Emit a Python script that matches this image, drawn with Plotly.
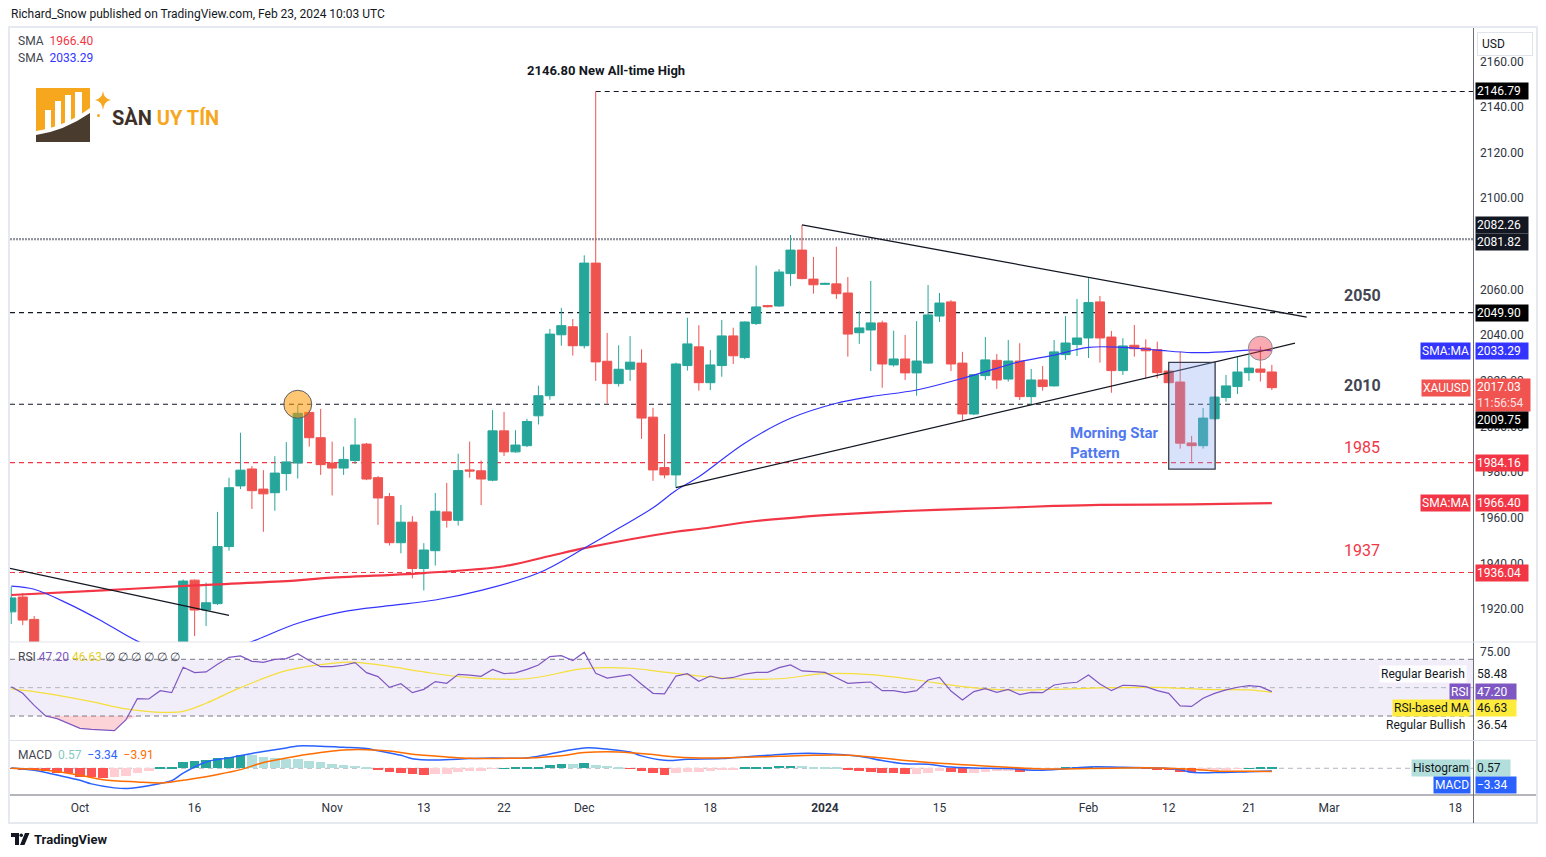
import numpy as np
import pandas as pd
import plotly.graph_objects as go

# ---------------- data ----------------
dates = pd.bdate_range("2023-09-22", "2024-02-23").strftime("%Y-%m-%d").tolist()

opens = [1918.8, 1925.3, 1915.5, 1900.6, 1874.6, 1864.6, 1848.6, 1827.9, 1822.3, 1821.6,
         1820.3, 1833.0, 1861.4, 1861.0, 1874.3, 1868.6, 1932.7, 1919.6, 1922.4, 1947.4,
         1974.0, 1981.4, 1972.6, 1971.0, 1979.4, 1984.0, 2006.2, 1995.1, 1984.0, 1981.8,
         1985.1, 1992.3, 1977.6, 1969.3, 1949.1, 1958.1, 1937.8, 1945.6, 1962.6, 1958.9,
         1981.0, 1980.6, 1976.5, 1998.1, 1988.9, 1991.6, 2004.7, 2013.5, 2040.2, 2043.7,
         2035.4, 2071.6, 2028.6, 2018.8, 2025.1, 2027.8, 2004.1, 1982.0, 1978.8, 2026.7,
         2034.9, 2019.2, 2026.7, 2039.7, 2030.2, 2045.1, 2053.0, 2052.8, 2067.0, 2077.3,
         2064.6, 2062.3, 2062.5, 2058.5, 2041.1, 2042.3, 2045.4, 2027.0, 2029.6, 2023.5,
         2027.8, 2048.4, 2054.6, 2027.8, 2005.5, 2022.3, 2029.0, 2020.8, 2028.7, 2013.1,
         2020.4, 2017.8, 2031.5, 2035.9, 2038.8, 2054.6, 2039.2, 2024.5, 2035.6, 2034.4,
         2033.7, 2024.3, 2019.5, 1992.8, 1991.6, 2003.4, 2012.7, 2017.5, 2023.6, 2025.2,
         2023.9]
highs = [1929.7, 1927.0, 1917.0, 1903.0, 1879.6, 1879.6, 1850.9, 1833.1, 1829.6, 1826.8,
         1834.0, 1865.0, 1866.8, 1876.0, 1885.0, 1933.0, 1933.0, 1931.6, 1962.6, 1977.6,
         1997.3, 1982.7, 1980.9, 1987.0, 1993.2, 2009.4, 2007.4, 2007.7, 1993.4, 1991.2,
         2003.7, 1992.8, 1978.3, 1970.9, 1965.6, 1960.7, 1948.9, 1970.9, 1975.3, 1988.1,
         1993.4, 1985.1, 2007.2, 2006.4, 1998.4, 2003.4, 2017.9, 2042.8, 2052.0, 2047.1,
         2075.0, 2146.79, 2041.0, 2035.6, 2039.6, 2033.8, 2008.2, 1996.7, 2028.0, 2047.7,
         2044.4, 2033.5, 2046.7, 2043.3, 2046.0, 2070.5, 2053.3, 2069.0, 2083.9, 2088.3,
         2074.3, 2063.0, 2078.8, 2065.5, 2050.6, 2063.8, 2046.4, 2042.0, 2040.1, 2046.2,
         2062.0, 2058.5, 2055.4, 2032.7, 2022.9, 2039.2, 2031.8, 2037.9, 2036.5, 2025.2,
         2026.5, 2037.9, 2048.4, 2055.9, 2065.0, 2057.2, 2041.9, 2038.7, 2044.5, 2038.2,
         2037.2, 2025.0, 2032.8, 1995.9, 2008.1, 2013.3, 2022.6, 2030.6, 2031.3, 2035.0,
         2027.0]
lows = [1913.5, 1913.0, 1899.5, 1873.8, 1857.4, 1846.0, 1827.3, 1815.0, 1816.2, 1813.2,
        1810.5, 1832.0, 1853.0, 1857.0, 1866.0, 1867.0, 1908.2, 1912.6, 1921.8, 1945.6,
        1972.6, 1963.9, 1953.9, 1963.1, 1971.9, 1977.2, 1991.2, 1978.8, 1969.8, 1978.8,
        1983.6, 1976.5, 1956.9, 1947.9, 1944.5, 1933.5, 1928.2, 1939.1, 1955.7, 1956.6,
        1977.6, 1965.6, 1976.0, 1987.1, 1988.5, 1991.0, 2000.9, 2011.7, 2035.4, 2031.1,
        2034.2, 2020.0, 2010.0, 2017.5, 2020.0, 1994.6, 1976.2, 1977.3, 1973.2, 2024.5,
        2015.7, 2016.0, 2021.8, 2027.4, 2029.5, 2044.5, 2052.2, 2052.5, 2061.6, 2064.5,
        2058.2, 2062.0, 2055.9, 2030.6, 2036.2, 2024.3, 2017.0, 2026.2, 2020.4, 2013.5,
        2027.5, 2045.8, 2024.3, 2002.6, 2005.0, 2020.4, 2016.5, 2019.7, 2011.6, 2009.4,
        2015.7, 2017.5, 2029.2, 2030.9, 2030.0, 2028.0, 2014.8, 2022.6, 2030.6, 2021.1,
        2021.1, 2018.8, 1990.3, 1984.6, 1990.3, 2003.0, 2010.9, 2014.3, 2020.0, 2019.7,
        2016.0]
closes = [1924.9, 1915.2, 1900.6, 1874.6, 1864.6, 1848.6, 1827.9, 1822.3, 1821.6, 1820.3,
          1832.9, 1861.4, 1860.9, 1874.3, 1868.6, 1932.3, 1919.6, 1922.8, 1947.4, 1973.2,
          1980.9, 1971.9, 1970.5, 1979.6, 1984.5, 2005.8, 1995.1, 1983.3, 1981.8, 1985.6,
          1991.9, 1977.0, 1968.7, 1949.1, 1958.1, 1937.8, 1945.9, 1962.9, 1958.9, 1980.7,
          1980.5, 1977.0, 1998.1, 1988.9, 1991.9, 2002.2, 2013.5, 2040.5, 2044.2, 2035.4,
          2071.6, 2028.3, 2018.8, 2025.1, 2028.2, 2003.7, 1981.0, 1978.8, 2027.4, 2036.2,
          2019.2, 2027.0, 2039.7, 2031.0, 2045.8, 2052.4, 2052.5, 2067.7, 2077.3, 2064.8,
          2062.1, 2062.7, 2058.2, 2040.5, 2043.2, 2045.4, 2027.4, 2029.6, 2023.5, 2028.7,
          2048.9, 2054.1, 2027.4, 2005.5, 2022.7, 2029.2, 2020.4, 2028.7, 2013.1, 2020.4,
          2017.5, 2032.7, 2036.6, 2038.8, 2054.3, 2038.8, 2024.5, 2035.3, 2034.1, 2033.2,
          2023.6, 2019.2, 1992.7, 1991.6, 2003.7, 2012.9, 2017.8, 2023.9, 2025.6, 2023.8,
          2017.03]

rsi = [50.7, 46.0, 37.5, 30.0, 28.2, 24.5, 21.3, 20.6, 20.2, 19.7,
       27.2, 42.2, 42.0, 47.9, 46.5, 64.4, 60.6, 61.1, 66.5, 71.4,
       72.4, 68.6, 67.9, 70.0, 70.5, 74.0, 69.1, 64.8, 64.8, 65.8,
       67.7, 60.6, 57.8, 50.2, 52.8, 46.5, 48.8, 54.3, 53.1, 59.4,
       58.9, 58.0, 62.9, 59.9, 60.4, 62.9, 66.0, 71.9, 72.6, 69.1,
       75.0, 60.1, 56.8, 58.2, 59.2, 52.4, 46.0, 45.6, 58.2, 59.9,
       54.5, 58.2, 56.3, 57.2, 59.6, 60.8, 60.8, 64.1, 66.0, 61.8,
       61.1, 60.8, 57.0, 53.1, 53.5, 54.0, 47.9, 47.9, 46.5, 47.9,
       55.4, 57.3, 47.6, 41.3, 47.2, 49.3, 46.7, 48.8, 45.1, 46.7,
       46.5, 51.9, 53.1, 53.8, 58.9, 52.6, 47.9, 51.7, 51.4, 50.7,
       47.9, 46.0, 37.1, 36.8, 42.5, 46.0, 48.4, 50.3, 51.4, 50.7,
       47.2]

hist = [-0.8, -1.7, -2.5, -3.75, -5.4, -6.25, -10.4, -11.3, -11.7, -10.8,
        -9.2, -5.4, -2.9, 0.4, 2.1, 7.5, 9.6, 10.4, 12.9, 14.6,
        16.25, 16.0, 14.2, 12.9, 12.1, 11.7, 9.6, 8.3, 5.8, 4.6,
        2.9, 1.7, -1.7, -4.2, -5.4, -7.1, -7.9, -6.7, -6.6, -4.2,
        -3.3, -3.2, -0.4, 0.3, 0.4, 1.7, 1.8, 4.2, 5.4, 5.2,
        6.7, 4.2, 2.9, 0.4, -0.4, -3.3, -5.4, -7.9, -5.8, -4.2,
        -4.1, -2.9, -2.1, -1.7, 0.4, 1.7, 1.8, 2.9, 3.0, 2.8,
        1.7, 1.6, 0.4, -2.1, -3.3, -4.6, -5.4, -5.5, -6.7, -6.6,
        -5.4, -3.3, -4.2, -5.8, -5.4, -4.6, -3.3, -2.9, -4.2, -3.0,
        -2.2, -1.0, 0.5, 1.2, 1.8, 1.2, 0.6, 0.4, 0.2, -0.3,
        -1.0, -2.5, -4.2, -5.0, -4.0, -2.8, -1.7, -0.9, 0.2, 0.4,
        0.57]

sma200_dates = ["2023-09-22", "2023-10-04", "2023-10-16", "2023-10-27", "2023-10-31",
                "2023-11-13", "2023-11-22", "2023-11-28", "2023-12-01", "2023-12-13",
                "2023-12-15", "2023-12-22", "2023-12-28", "2024-01-03", "2024-01-10",
                "2024-01-16", "2024-01-22", "2024-01-29", "2024-02-02", "2024-02-14",
                "2024-02-23"]
sma200 = [1926.2, 1928.2, 1930.4, 1932.6, 1933.5, 1935.8, 1938.8, 1943.3, 1946.7, 1953.9,
          1955.1, 1958.6, 1960.4, 1961.7, 1963.0, 1963.7, 1964.3, 1965.2, 1965.7, 1965.9,
          1966.4]

sma50_dates = ["2023-09-22", "2023-09-26", "2023-09-29", "2023-10-04", "2023-10-09",
               "2023-10-12", "2023-10-16", "2023-10-18", "2023-10-23", "2023-10-27",
               "2023-11-02", "2023-11-08", "2023-11-14", "2023-11-20", "2023-11-27",
               "2023-12-01", "2023-12-06", "2023-12-11", "2023-12-13", "2023-12-15",
               "2023-12-21", "2023-12-27", "2024-01-02", "2024-01-05", "2024-01-11",
               "2024-01-17", "2024-01-22", "2024-01-24", "2024-01-29", "2024-02-01",
               "2024-02-06", "2024-02-09", "2024-02-14", "2024-02-19", "2024-02-21",
               "2024-02-23"]
sma50 = [1930.1, 1928.7, 1922.3, 1914.5, 1906.0, 1900.5, 1899.0, 1900.5, 1905.8, 1913.8,
         1918.9, 1921.5, 1924.0, 1928.2, 1935.8, 1946.7, 1955.4, 1964.4, 1972.0, 1978.0,
         1992.7, 2003.6, 2010.2, 2013.1, 2016.0, 2021.1, 2025.5, 2028.4, 2031.3, 2034.7,
         2034.7, 2033.5, 2032.4, 2032.8, 2033.5, 2033.29]

rsi_ma_dates = ["2023-09-22", "2023-09-27", "2023-10-03", "2023-10-06", "2023-10-11",
                "2023-10-13", "2023-10-17", "2023-10-20", "2023-10-26", "2023-11-01",
                "2023-11-03", "2023-11-08", "2023-11-13", "2023-11-17", "2023-11-24",
                "2023-12-01", "2023-12-07", "2023-12-12", "2023-12-20", "2023-12-26",
                "2024-01-01", "2024-01-05", "2024-01-11", "2024-01-17", "2024-01-23",
                "2024-01-29", "2024-02-05", "2024-02-09", "2024-02-15", "2024-02-21",
                "2024-02-23"]
rsi_ma = [49.1, 46.0, 40.2, 35.0, 32.6, 33.3, 39.0, 50.0, 62.0, 67.2,
          67.9, 65.0, 61.1, 57.1, 56.3, 63.4, 63.7, 61.0, 56.3, 56.3,
          59.9, 59.2, 55.4, 50.8, 48.4, 48.8, 50.0, 50.2, 48.8, 48.4,
          46.63]

macd_dates = ["2023-09-22", "2023-09-26", "2023-09-28", "2023-10-02", "2023-10-03",
              "2023-10-05", "2023-10-06", "2023-10-09", "2023-10-11", "2023-10-12",
              "2023-10-13", "2023-10-17", "2023-10-19", "2023-10-23", "2023-10-24",
              "2023-10-26", "2023-10-27", "2023-10-31", "2023-11-02", "2023-11-06",
              "2023-11-07", "2023-11-09", "2023-11-10", "2023-11-14", "2023-11-17",
              "2023-11-21", "2023-11-24", "2023-11-28", "2023-12-01", "2023-12-05",
              "2023-12-07", "2023-12-08", "2023-12-12", "2023-12-14", "2023-12-19",
              "2023-12-21", "2023-12-25", "2023-12-27", "2024-01-01", "2024-01-04",
              "2024-01-08", "2024-01-10", "2024-01-12", "2024-01-16", "2024-01-18",
              "2024-01-23", "2024-01-26", "2024-02-01", "2024-02-06", "2024-02-09",
              "2024-02-13", "2024-02-14", "2024-02-16", "2024-02-21", "2024-02-23"]
macd = [0.5, -2.5, -8.5, -15.0, -19.5, -24.5, -25.4, -24.0, -19.0, -15.5,
        -6.0, 7.9, 13.0, 18.5, 21.0, 25.4, 27.9, 27.5, 26.2, 24.6,
        22.0, 16.2, 12.0, 10.4, 12.1, 12.9, 12.9, 17.9, 25.4, 24.0,
        20.4, 15.5, 10.0, 11.2, 12.1, 14.2, 16.2, 18.3, 18.3, 15.0,
        9.6, 5.6, 5.0, 1.5, 0.5, -0.4, -2.5, 1.7, 1.2, 0.4,
        -1.7, -5.0, -5.4, -4.2, -3.34]

signal_dates = ["2023-09-22", "2023-09-27", "2023-10-02", "2023-10-04", "2023-10-09",
                "2023-10-11", "2023-10-12", "2023-10-16", "2023-10-18", "2023-10-20",
                "2023-10-24", "2023-10-27", "2023-10-31", "2023-11-02", "2023-11-06",
                "2023-11-08", "2023-11-10", "2023-11-15", "2023-11-17", "2023-11-21",
                "2023-11-24", "2023-11-29", "2023-12-01", "2023-12-06", "2023-12-11",
                "2023-12-13", "2023-12-18", "2023-12-21", "2023-12-26", "2023-12-29",
                "2024-01-03", "2024-01-08", "2024-01-10", "2024-01-15", "2024-01-18",
                "2024-01-23", "2024-01-26", "2024-02-01", "2024-02-06", "2024-02-09",
                "2024-02-14", "2024-02-16", "2024-02-21", "2024-02-23"]
signal = [0.0, -2.5, -8.7, -14.2, -17.1, -18.3, -17.1, -12.9, -7.9, -1.7,
          7.1, 15.4, 19.6, 22.9, 23.3, 21.6, 17.5, 14.2, 12.5, 12.3,
          12.9, 15.8, 19.6, 20.4, 17.1, 14.2, 12.9, 13.7, 15.0, 16.2,
          16.2, 12.9, 9.6, 6.2, 3.7, 1.25, -0.8, -0.4, 0.4, 0.4,
          -1.2, -3.3, -3.75, -3.91]

levels = [2146.79, 2082.26, 2081.82, 2049.90, 2009.75, 1984.16, 1936.04]
level_text = ["2050", "2010", "1985", "1937"]
level_text_y = [2057.6, 2017.8, 1991.0, 1945.9]

price_ticks = [1920, 1940, 1960, 1980, 2000, 2020, 2040, 2060, 2100, 2120, 2140, 2160]

tick_dates = ["2023-10-02", "2023-10-16", "2023-11-01", "2023-11-13", "2023-11-22",
              "2023-12-01", "2023-12-18", "2024-01-01", "2024-01-15", "2024-02-01",
              "2024-02-12", "2024-02-21", "2024-03-01", "2024-03-18"]
tick_text = ["Oct", "16", "Nov", "13", "22", "Dec", "18", "<b>2024</b>", "15", "Feb",
             "12", "21", "Mar", "18"]

# ---------------- helpers ----------------
ORIGIN = "2023-10-02"


def bar_index(d):
    "trading-day position of a date on the chart"
    return np.busday_count(ORIGIN, np.array(d, dtype="datetime64[D]"))


W, H = 1546, 857
ML, MR, MT, MB = 10, 72, 28, 62
PW, PH = W - ML - MR, H - MT - MB


def px(x):
    return (x - ML) / PW


def py(y):
    return (H - MB - y) / PH


def pt(x, y):
    return f"{px(x):.5f},{py(y):.5f}"


xi = bar_index(dates)
XMIN, XMAX = -6.11, 121.64

UP, DOWN = "#26a69a", "#ef5350"
RED, BLUE = "#f23645", "#3434ff"
TXT = "#131722"

fig = go.Figure()

# price pane
fig.add_trace(go.Candlestick(
    x=xi, open=opens, high=highs, low=lows, close=closes,
    increasing=dict(line=dict(color=UP, width=1), fillcolor=UP),
    decreasing=dict(line=dict(color=DOWN, width=1), fillcolor=DOWN),
    whiskerwidth=0, hoverinfo="skip", yaxis="y"))
fig.add_trace(go.Scatter(x=bar_index(sma200_dates), y=sma200, mode="lines",
                         line=dict(color=RED, width=2.2, shape="spline"), yaxis="y"))
fig.add_trace(go.Scatter(x=bar_index(sma50_dates), y=sma50, mode="lines",
                         line=dict(color=BLUE, width=1.2, shape="spline"), yaxis="y"))

# RSI pane
seg = slice(3, 12)
fig.add_trace(go.Scatter(x=xi[seg], y=[30] * len(xi[seg]), mode="lines",
                         line=dict(width=0), yaxis="y2"))
fig.add_trace(go.Scatter(x=xi[seg], y=np.minimum(np.array(rsi[seg]), 30), mode="lines",
                         line=dict(width=0), fill="tonexty",
                         fillcolor="rgba(242,54,69,0.22)", yaxis="y2"))
fig.add_trace(go.Scatter(x=bar_index(rsi_ma_dates), y=rsi_ma, mode="lines",
                         line=dict(color="#f5df3a", width=1.2, shape="spline"), yaxis="y2"))
fig.add_trace(go.Scatter(x=xi, y=rsi, mode="lines",
                         line=dict(color="#7e57c2", width=1.2), yaxis="y2"))

# MACD pane
hist_colors = []
prev = 0.0
for k, h in enumerate(hist):
    if h >= 0:
        hist_colors.append("#26a69a" if (k == 0 or h > prev) else "#b2dfdb")
    else:
        hist_colors.append("#ff5252" if (k == 0 or h < prev) else "#ffcdd2")
    prev = h
fig.add_trace(go.Bar(x=xi, y=hist, marker=dict(color=hist_colors, line=dict(width=0)),
                     width=0.84, yaxis="y3"))
fig.add_trace(go.Scatter(x=bar_index(macd_dates), y=macd, mode="lines",
                         line=dict(color="#2962ff", width=1.5, shape="spline"), yaxis="y3"))
fig.add_trace(go.Scatter(x=bar_index(signal_dates), y=signal, mode="lines",
                         line=dict(color="#ff6d00", width=1.5, shape="spline"), yaxis="y3"))

# ---------------- shapes ----------------
shapes = []
ath_x = float(xi[int(np.argmax(highs))])
level_style = [("#131722", "5px,4px", ath_x), ("#787b86", "2px,1px", XMIN),
               ("#787b86", "2px,1px", XMIN), ("#131722", "5px,4px", XMIN),
               ("#131722", "5px,4px", XMIN), (RED, "5px,4px", XMIN), (RED, "5px,4px", XMIN)]
for lv, (col, dash, x0) in zip(levels, level_style):
    shapes.append(dict(type="line", xref="x", yref="y", x0=x0, x1=XMAX, y0=lv, y1=lv,
                       line=dict(color=col, width=1.2, dash=dash), layer="below"))

# trend lines
dec28 = float(bar_index("2023-12-28"))
dec13 = float(bar_index("2023-12-13"))
shapes += [
    dict(type="line", xref="x", yref="y", x0=dec28, y0=2088.3, x1=107.04, y1=2047.9,
         line=dict(color="#131722", width=1.3)),
    dict(type="line", xref="x", yref="y", x0=dec13, y0=1973.2, x1=106.02, y1=2036.5,
         line=dict(color="#131722", width=1.3)),
    dict(type="line", xref="x", yref="y", x0=XMIN, y0=1937.9, x1=13.0, y1=1917.3,
         line=dict(color="#131722", width=1.3)),
]

# morning star box
shapes.append(dict(type="rect", xref="x", yref="y",
                   x0=float(bar_index("2024-02-12")), x1=float(bar_index("2024-02-16")) + 0.05,
                   y0=1981.3, y1=2028.1, fillcolor="rgba(139,168,242,0.33)",
                   line=dict(color="#3a3e4c", width=1.3)))

# circles
oct27 = float(bar_index("2023-10-27"))
feb22 = float(bar_index("2024-02-22"))
rx, ry = 14 / 11.46, 14 / 2.2825
shapes.append(dict(type="circle", xref="x", yref="y", x0=oct27 - rx, x1=oct27 + rx,
                   y0=2009.75 - ry, y1=2009.75 + ry, fillcolor="rgba(255,152,0,0.55)",
                   line=dict(color="#5d606b", width=1)))
rx, ry = 12 / 11.46, 12 / 2.2825
shapes.append(dict(type="circle", xref="x", yref="y", x0=feb22 - rx, x1=feb22 + rx,
                   y0=2034.3 - ry, y1=2034.3 + ry, fillcolor="rgba(242,54,69,0.42)",
                   line=dict(color="#8a8d96", width=1)))

# RSI band and guides
shapes.append(dict(type="rect", xref="paper", yref="y2", x0=0, x1=1, y0=30, y1=70,
                   fillcolor="rgba(126,87,194,0.1)", line=dict(width=0), layer="below"))
for lv, col in [(70, "#787b86"), (50, "#b2b5be"), (30, "#787b86")]:
    shapes.append(dict(type="line", xref="paper", yref="y2", x0=0, x1=1, y0=lv, y1=lv,
                       line=dict(color=col, width=1, dash="5px,4px"), layer="below"))
shapes.append(dict(type="line", xref="paper", yref="y3", x0=0, x1=1, y0=0, y1=0,
                   line=dict(color="#b2b5be", width=1, dash="5px,4px"), layer="below"))

# frame, axis lines, pane separators
shapes += [
    dict(type="rect", xref="paper", yref="paper", x0=px(9), x1=px(1537), y0=py(823), y1=py(27),
         line=dict(color="#e6e9f0", width=2)),
    dict(type="line", xref="paper", yref="paper", x0=px(1473.5), x1=px(1473.5), y0=py(28), y1=py(823),
         line=dict(color="#6a6d78", width=1)),
    dict(type="line", xref="paper", yref="paper", x0=px(10), x1=px(1536), y0=py(795), y1=py(795),
         line=dict(color="#6a6d78", width=1)),
    dict(type="line", xref="paper", yref="paper", x0=px(10), x1=px(1536), y0=py(642), y1=py(642),
         line=dict(color="#e0e3eb", width=1)),
    dict(type="line", xref="paper", yref="paper", x0=px(10), x1=px(1536), y0=py(740.5), y1=py(740.5),
         line=dict(color="#e0e3eb", width=1)),
]

# watermark logo (SÀN UY TÍN)
ORANGE, BROWN = "#f6a71e", "#4a3b2f"
shapes.append(dict(type="rect", xref="paper", yref="paper", x0=px(36), x1=px(90),
                   y0=py(142), y1=py(88), fillcolor=ORANGE, line=dict(width=0)))
for x0, x1, y0, y1 in [(45, 51, 110, 131), (55, 61, 101, 128), (65, 71, 95, 124), (75, 82, 92, 120)]:
    shapes.append(dict(type="rect", xref="paper", yref="paper", x0=px(x0), x1=px(x1),
                       y0=py(y1), y1=py(y0), fillcolor="white", line=dict(width=0)))
shapes.append(dict(type="path", xref="paper", yref="paper",
                   path=f"M {pt(36,131)} Q {pt(64,127)} {pt(90,108)} L {pt(90,142)} L {pt(36,142)} Z",
                   fillcolor="white", line=dict(width=0)))
shapes.append(dict(type="path", xref="paper", yref="paper",
                   path=f"M {pt(36,135)} Q {pt(64,131)} {pt(90,113)} L {pt(90,142)} L {pt(36,142)} Z",
                   fillcolor=BROWN, line=dict(width=0)))
shapes.append(dict(type="path", xref="paper", yref="paper",
                   path=(f"M {pt(103,91)} Q {pt(104,99)} {pt(111,100)} Q {pt(104,101)} {pt(103,110)} "
                         f"Q {pt(102,101)} {pt(95,100)} Q {pt(102,99)} {pt(103,91)} Z"),
                   fillcolor=ORANGE, line=dict(width=0)))
shapes.append(dict(type="circle", xref="paper", yref="paper", x0=px(97), x1=px(100),
                   y0=py(117), y1=py(114), fillcolor=ORANGE, line=dict(width=0)))

# TradingView footer logo
shapes.append(dict(type="path", xref="paper", yref="paper",
                   path=f"M {pt(11,833)} L {pt(19,833)} L {pt(19,845)} L {pt(15,845)} L {pt(15,837)} L {pt(11,837)} Z",
                   fillcolor=TXT, line=dict(width=0)))
shapes.append(dict(type="circle", xref="paper", yref="paper", x0=px(19.5), x1=px(23),
                   y0=py(837), y1=py(833.5), fillcolor=TXT, line=dict(width=0)))
shapes.append(dict(type="path", xref="paper", yref="paper",
                   path=f"M {pt(25,833)} L {pt(29.5,833)} L {pt(24.5,845)} L {pt(20,845)} Z",
                   fillcolor=TXT, line=dict(width=0)))

# ---------------- annotations ----------------
ann = []


def note(text, x, y, xref="paper", yref="paper", size=12, color=TXT, xanchor="left",
         yanchor="middle", **kw):
    ann.append(dict(text=text, x=x, y=y, xref=xref, yref=yref, showarrow=False,
                    font=dict(size=size, color=color), xanchor=xanchor, yanchor=yanchor, **kw))


def tag(text, y, yref, bg, fg="white", x=1474.5, xanchor="left", yshift=0, width=None):
    kw = dict(bgcolor=bg, borderpad=1, yshift=yshift)
    if width:
        kw.update(width=width, align="left")
    note(text, px(x), y, yref=yref, color=fg, xanchor=xanchor, **kw)


note("Richard_Snow published on TradingView.com, Feb 23, 2024 10:03 UTC", px(9), py(14))
note("<span style='color:#434651'>SMA</span>  <span style='color:#f23645'>1966.40</span>", px(16), py(41))
note("<span style='color:#434651'>SMA</span>  <span style='color:#3434ff'>2033.29</span>", px(16), py(58))
note("<b><span style='color:#3d3129'>SÀN</span> <span style='color:#f6a71e'>UY TÍN</span></b>",
     px(110), py(118), size=20)
note("<b>TradingView</b>", px(32), py(839), size=13)

note("<span style='color:#434651'>RSI</span> <span style='color:#7e57c2'>47.20</span> "
     "<span style='color:#e4cf2a'>46.63</span> "
     "<span style='color:#434651'>∅ ∅ ∅ ∅ ∅ ∅</span>", px(16), py(657))
note("<span style='color:#434651'>MACD</span>  <span style='color:#86c9c2'>0.57</span>  "
     "<span style='color:#2962ff'>−3.34</span>  <span style='color:#ff6d00'>−3.91</span>",
     px(16), py(755))

note("<b>2146.80 New All-time High</b>", 45.9, 2156.2, xref="x", yref="y", size=13,
     xanchor="center")
for t, yv in zip(level_text, level_text_y):
    bold = t in ("2050", "2010")
    note(f"<b>{t}</b>" if bold else t, 111.9, yv, xref="x", yref="y", size=16,
         color="#434651" if bold else RED, xanchor="center")
note("<b>Morning Star<br>Pattern</b>", 86.2, 1992.8, xref="x", yref="y", size=15,
     color="#5078f0", align="left")

# right-hand price labels
tag("2146.79", 2146.79, "y", "#000000", width=50)
tag("2082.26", 2082.26, "y", "#131722", yshift=14, width=50)
tag("2081.82", 2081.82, "y", "#131722", yshift=-2, width=50)
tag("2049.90", 2049.90, "y", "#000000", width=50)
tag("2033.29", 2033.29, "y", "#3434ff", width=50)
tag("SMA:MA", 2033.29, "y", "#3434ff", x=1471, xanchor="right")
tag("2017.03<br><span style='color:#ffe0e0'>11:56:54</span>", 2017.03, "y", "#f05350",
    yshift=-7, width=52)
tag("XAUUSD", 2017.03, "y", "#f05350", x=1471, xanchor="right")
tag("2009.75", 2009.75, "y", "#000000", yshift=-15.5, width=50)
tag("1984.16", 1984.16, "y", RED, width=50)
tag("1966.40", 1966.40, "y", RED, width=50)
tag("SMA:MA", 1966.40, "y", RED, x=1471, xanchor="right")
tag("1936.04", 1936.04, "y", RED, width=50)
note("USD", px(1477), py(44), bgcolor="white", bordercolor="#e0e3eb", borderwidth=1,
     borderpad=4, width=46, align="left", size=12)

# RSI labels
tag("Regular Bearish", 58.48, "y2", "white", fg=TXT, x=1467, xanchor="right", yshift=2)
tag("58.48", 58.48, "y2", "rgba(0,0,0,0)", fg=TXT, yshift=2, width=40)
tag("RSI", 47.20, "y2", "#7e57c2", x=1471, xanchor="right")
tag("47.20", 47.20, "y2", "#7e57c2", width=38)
tag("RSI-based MA", 46.63, "y2", "#ffeb3b", fg=TXT, x=1471, xanchor="right", yshift=-16)
tag("46.63", 46.63, "y2", "#ffeb3b", fg=TXT, yshift=-16, width=38)
tag("Regular Bullish", 36.54, "y2", "rgba(0,0,0,0)", fg=TXT, x=1467, xanchor="right", yshift=-18)
tag("36.54", 36.54, "y2", "rgba(0,0,0,0)", fg=TXT, yshift=-18, width=40)

# MACD labels
tag("Histogram", 0.57, "y3", "#b2dfdb", fg=TXT, x=1471, xanchor="right")
tag("0.57", 0.57, "y3", "#b2dfdb", fg=TXT, width=32)
tag("MACD", -3.34, "y3", "#2962ff", x=1471, xanchor="right", yshift=-14)
tag("−3.34", -3.34, "y3", "#2962ff", yshift=-14, width=38)

# ---------------- layout ----------------
axis_font = dict(size=12, color="#2e3240")
fig.update_layout(
    width=W, height=H,
    margin=dict(l=ML, r=MR, t=MT, b=MB),
    paper_bgcolor="white", plot_bgcolor="white",
    font=dict(family="Roboto, 'Liberation Sans', sans-serif", color=TXT),
    showlegend=False, hovermode=False,
    boxgap=0.2, boxgroupgap=0, bargap=0,
    xaxis=dict(range=[XMIN, XMAX], anchor="y3", tickvals=bar_index(tick_dates),
               ticktext=tick_text, showgrid=False, zeroline=False, showline=False,
               ticks="", tickfont=axis_font, rangeslider=dict(visible=False),
               ticklabelstandoff=4),
    yaxis=dict(domain=[py(642), 1], range=[1905.6, 2174.6], side="right", anchor="x",
               tickvals=price_ticks, tickformat=".2f", showgrid=False,
               zeroline=False, ticks="", tickfont=axis_font, ticklabelstandoff=5),
    yaxis2=dict(domain=[py(740), py(643)], range=[13.1, 81.5], side="right", anchor="x",
                tickvals=[75], ticktext=["75.00"], showgrid=False, zeroline=False,
                ticks="", tickfont=axis_font, ticklabelstandoff=5),
    yaxis3=dict(domain=[0, py(741)], range=[-33.4, 34.1], side="right", anchor="x",
                showticklabels=False, showgrid=False, zeroline=False, ticks=""),
    shapes=shapes,
    annotations=ann,
)

# the page body has an 8px default margin; drop it so the figure sits at the window origin
fig.write_html("out.html", config={"displayModeBar": False},
               post_script="document.body.style.margin='0';")
